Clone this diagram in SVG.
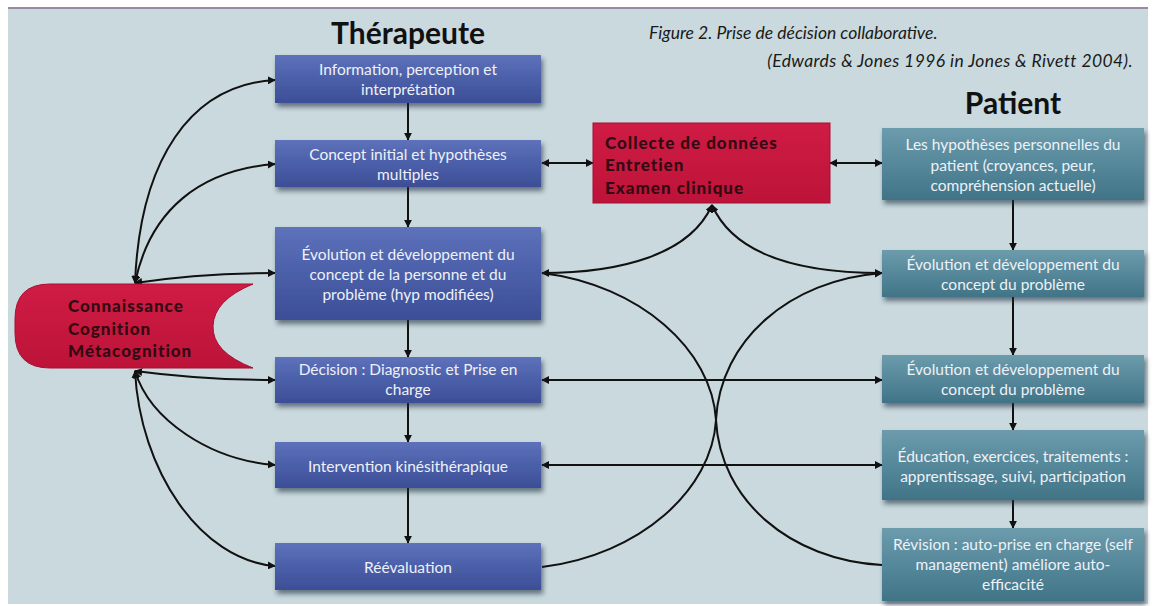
<svg xmlns="http://www.w3.org/2000/svg" width="1155" height="606" viewBox="0 0 1155 606">
<defs>
<linearGradient id="gBlue" x1="0" y1="0" x2="0" y2="1">
<stop offset="0" stop-color="#5e72bb"/>
<stop offset="0.5" stop-color="#4b5fa9"/>
<stop offset="1" stop-color="#3c4e96"/>
</linearGradient>
<linearGradient id="gTeal" x1="0" y1="0" x2="0" y2="1">
<stop offset="0" stop-color="#6c9cac"/>
<stop offset="0.5" stop-color="#55889a"/>
<stop offset="1" stop-color="#407486"/>
</linearGradient>
<linearGradient id="gRed" x1="0" y1="0" x2="0" y2="1">
<stop offset="0" stop-color="#cf1c45"/>
<stop offset="1" stop-color="#bd1339"/>
</linearGradient>
<filter id="shadow" x="-10%" y="-20%" width="125%" height="160%">
<feDropShadow dx="2" dy="4" stdDeviation="2.5" flood-color="#1d2a40" flood-opacity="0.6"/>
</filter>
<marker id="arr" viewBox="0 0 10 10" refX="9" refY="5" markerWidth="8" markerHeight="8" markerUnits="userSpaceOnUse" orient="auto-start-reverse">
<path d="M0,0 L10,5 L0,10 z" fill="#111"/>
</marker>
<style>
.bg{fill:#c9d9dd}
.tbox{fill:url(#gBlue);filter:url(#shadow)}
.pbox{fill:url(#gTeal);filter:url(#shadow)}
.btxt{font-family:Lato,"Open Sans","Liberation Sans",sans-serif;font-size:15.5px;fill:#eef1f8;text-anchor:middle}
.title{font-family:Lato,"Liberation Sans",sans-serif;font-weight:bold;font-size:30px;fill:#111;text-anchor:middle}
.cap{font-family:Lato,"Liberation Sans",sans-serif;font-style:italic;font-size:17.5px;fill:#1a1a1a}
.rtxt{font-family:Lato,"Liberation Sans",sans-serif;font-weight:900;font-size:17px;letter-spacing:1px;fill:#330a12}
.ln{fill:none;stroke:#111;stroke-width:2}
.dbl{marker-start:url(#arr);marker-end:url(#arr)}
.end{marker-end:url(#arr)}
</style>
</defs>
<rect x="0" y="0" width="1155" height="606" fill="#ffffff"/>
<rect class="bg" x="8" y="8" width="1140" height="596"/>
<line x1="8" y1="8" x2="1148" y2="8" stroke="#9a8aa3" stroke-width="2"/>

<text class="title" x="408" y="44">Thérapeute</text>
<text class="title" x="1013" y="114">Patient</text>
<text class="cap" x="649" y="39">Figure 2. Prise de décision collaborative.</text>
<text class="cap" x="1133" y="67" text-anchor="end" letter-spacing="0.4">(Edwards &amp; Jones 1996 in Jones &amp; Rivett 2004).</text>

<g id="connectors">
<path class="ln end" d="M408,103 L408,140"/>
<path class="ln end" d="M408,187 L408,227"/>
<path class="ln end" d="M408,320 L408,357"/>
<path class="ln end" d="M408,403 L408,442"/>
<path class="ln end" d="M408,488 L408,543"/>
<path class="ln end" d="M1013,200 L1013,250"/>
<path class="ln end" d="M1013,297 L1013,355"/>
<path class="ln end" d="M1013,403 L1013,430"/>
<path class="ln end" d="M1013,500 L1013,528"/>
<path class="ln dbl" d="M542,163 L593,163"/>
<path class="ln dbl" d="M830,163 L882,163"/>
<path class="ln dbl" d="M542,380 L882,380"/>
<path class="ln dbl" d="M542,465 L882,465"/>
<path class="ln dbl" d="M135,283 C 140,160 190,85 275,80"/>
<path class="ln dbl" d="M135,283 C 150,210 200,170 275,164"/>
<path class="ln dbl" d="M135,283 C 180,276 230,273 275,273"/>
<path class="ln dbl" d="M135,371 C 180,377 230,380 275,380"/>
<path class="ln dbl" d="M135,371 C 150,420 210,460 275,465"/>
<path class="ln dbl" d="M135,371 C 140,470 200,560 275,566"/>
<path class="ln dbl" d="M712,205 C 690,255 620,273 542,273"/>
<path class="ln dbl" d="M712,205 C 734,255 800,273 882,273"/>
<path class="ln" d="M542,273 C 640,285 712,350 716,420 C 720,500 790,560 882,565"/>
<path class="ln end" d="M542,567 C 640,555 712,490 716,420 C 720,340 790,280 882,273"/>
</g>

<g id="knowledge">
<path d="M253,284 L50,284 Q15,284 15,319 L15,333 Q15,368 50,368 L253,368 Q212,352 213,326 Q214,300 253,284 Z" fill="url(#gRed)" stroke="#a80f33" stroke-width="1"/>
<text class="rtxt" x="68" y="312">Connaissance</text>
<text class="rtxt" x="68" y="335">Cognition</text>
<text class="rtxt" x="68" y="357">Métacognition</text>
</g>

<g id="collecte">
<rect x="593" y="123" width="237" height="80" fill="url(#gRed)" stroke="#a80f33" stroke-width="1"/>
<text class="rtxt" x="605" y="149">Collecte de données</text>
<text class="rtxt" x="605" y="171">Entretien</text>
<text class="rtxt" x="605" y="194">Examen clinique</text>
</g>

<g id="t1">
<rect class="tbox" x="275" y="55" width="266" height="48"/>
<text class="btxt" x="408" y="75">Information, perception et</text>
<text class="btxt" x="408" y="95">interprétation</text>
</g>
<g id="t2">
<rect class="tbox" x="275" y="140" width="266" height="47"/>
<text class="btxt" x="408" y="160">Concept initial et hypothèses</text>
<text class="btxt" x="408" y="180">multiples</text>
</g>
<g id="t3">
<rect class="tbox" x="275" y="227" width="266" height="93"/>
<text class="btxt" x="408" y="260">Évolution et développement du</text>
<text class="btxt" x="408" y="280">concept de la personne et du</text>
<text class="btxt" x="408" y="300">problème (hyp modifiées)</text>
</g>
<g id="t4">
<rect class="tbox" x="275" y="357" width="266" height="46"/>
<text class="btxt" x="408" y="375">Décision : Diagnostic et Prise en</text>
<text class="btxt" x="408" y="395">charge</text>
</g>
<g id="t5">
<rect class="tbox" x="275" y="442" width="266" height="46"/>
<text class="btxt" x="408" y="472">Intervention kinésithérapique</text>
</g>
<g id="t6">
<rect class="tbox" x="275" y="543" width="266" height="47"/>
<text class="btxt" x="408" y="573">Réévaluation</text>
</g>

<g id="p1">
<rect class="pbox" x="882" y="128" width="262" height="72"/>
<text class="btxt" x="1013" y="150">Les hypothèses personnelles du</text>
<text class="btxt" x="1013" y="171">patient (croyances, peur,</text>
<text class="btxt" x="1013" y="191">compréhension actuelle)</text>
</g>
<g id="p2">
<rect class="pbox" x="882" y="250" width="262" height="47"/>
<text class="btxt" x="1013" y="270">Évolution et développement du</text>
<text class="btxt" x="1013" y="290">concept du problème</text>
</g>
<g id="p3">
<rect class="pbox" x="882" y="355" width="262" height="48"/>
<text class="btxt" x="1013" y="375">Évolution et développement du</text>
<text class="btxt" x="1013" y="395">concept du problème</text>
</g>
<g id="p4">
<rect class="pbox" x="882" y="430" width="262" height="70"/>
<text class="btxt" x="1013" y="462">Éducation, exercices, traitements :</text>
<text class="btxt" x="1013" y="482">apprentissage, suivi, participation</text>
</g>
<g id="p5">
<rect class="pbox" x="882" y="528" width="262" height="73"/>
<text class="btxt" x="1013" y="550">Révision : auto-prise en charge (self</text>
<text class="btxt" x="1013" y="570">management) améliore auto-</text>
<text class="btxt" x="1013" y="590">efficacité</text>
</g>
</svg>
